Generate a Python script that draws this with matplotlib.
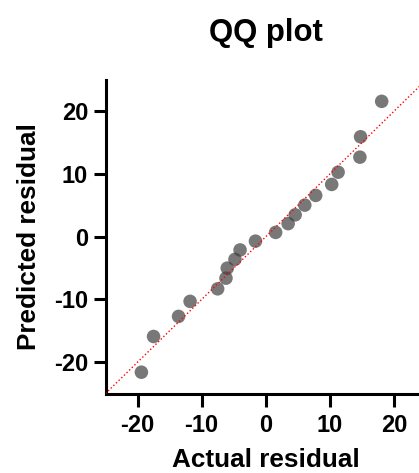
import numpy as np
import matplotlib.pyplot as plt

# 字体设置（Arial 替代）
plt.rcParams['font.family'] = ['Liberation Sans', 'DejaVu Sans']
plt.rcParams['font.weight'] = 'bold'
plt.rcParams['axes.unicode_minus'] = False

# 数据：实际残差与预测残差
actual_residual = [-19.4, -17.5, -13.6, -11.8, -7.5, -6.2, -6.0, -4.8, -4.0, -1.6,
                   1.55, 3.5, 4.6, 6.1, 7.8, 10.3, 11.3, 14.7, 14.8, 18.1]
predicted_residual = [-21.6, -15.9, -12.7, -10.3, -8.3, -6.6, -5.0, -3.6, -2.1, -0.7,
                      0.7, 2.1, 3.5, 5.05, 6.6, 8.35, 10.3, 12.7, 15.95, 21.6]
ref_line = [-25, 25]
ticks = [-20, -10, 0, 10, 20]

fig = plt.figure(figsize=(4.19, 4.73), dpi=100)
ax = fig.add_axes([0.2518, 0.168, 0.7647, 0.6628])

ax.scatter(actual_residual, predicted_residual, s=95, color='#3f3f3f', alpha=0.7,
           edgecolors='none', zorder=2, clip_on=False)
ax.plot(ref_line, ref_line, linestyle=':', color='red', linewidth=1, zorder=3)

ax.set_xlim(-25, 25)
ax.set_ylim(-25, 25)
ax.set_xticks(ticks)
ax.set_yticks(ticks)
ax.tick_params(length=9, width=2.2, labelsize=17, pad=3.5)
ax.tick_params(axis='x', pad=6)
for lab in ax.get_xticklabels() + ax.get_yticklabels():
    lab.set_fontweight('bold')

for side in ['top', 'right']:
    ax.spines[side].set_visible(False)
for side in ['left', 'bottom']:
    ax.spines[side].set_linewidth(2.2)

ax.set_xlabel('Actual residual', fontsize=18.8, fontweight='bold', labelpad=8)
ax.set_ylabel('Predicted residual', fontsize=18.8, fontweight='bold', labelpad=9)
ax.set_title('QQ plot', fontsize=22.4, fontweight='bold', pad=28)

plt.savefig('out.png', dpi=100)
